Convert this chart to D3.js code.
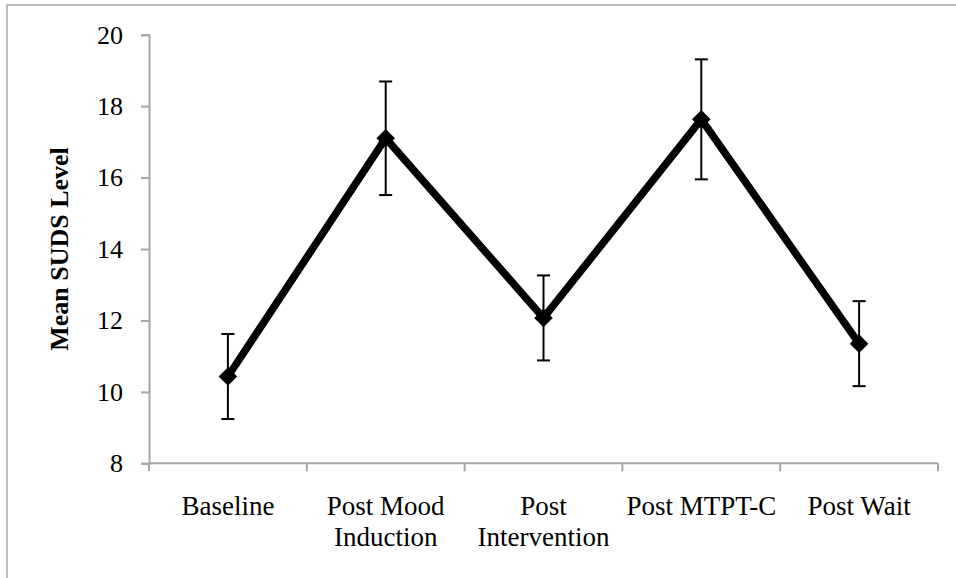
<!DOCTYPE html>
<html>

  <head>
    <meta charset="UTF-8" />
    <script src="https://d3js.org/d3.v7.min.js"></script>
    <title>Mean SUDS Level</title>
    <style>
      body { margin: 0; background: #fff; }
    </style>
  </head>

  <body>
    <div id="chart"></div>

    <script>
      // data
      var categories = ["Baseline", "Post Mood Induction", "Post Intervention", "Post MTPT-C", "Post Wait"];
      var labelLines = [["Baseline"], ["Post Mood", "Induction"], ["Post", "Intervention"], ["Post MTPT-C"], ["Post Wait"]];
      var means = [10.43, 17.1, 12.07, 17.63, 11.35];
      var errors = [1.19, 1.59, 1.19, 1.68, 1.19];
      var yTicks = [8, 10, 12, 14, 16, 18, 20];

      var W = 956, H = 578;
      var margin = { top: 34.7, right: 18, bottom: 114.7, left: 149 },
        width = W - margin.left - margin.right,
        height = H - margin.top - margin.bottom;

      var fontFam = "'Liberation Serif', 'Times New Roman', serif";

      var root = d3.select("#chart")
        .append("svg")
        .attr("width", W)
        .attr("height", H);

      // outer chart border (only top/left fall inside the picture)
      root.append("rect")
        .attr("x", 7)
        .attr("y", 5)
        .attr("width", 960)
        .attr("height", 600)
        .attr("fill", "none")
        .attr("stroke", "#a6a6a6")
        .attr("stroke-width", 1.5);

      var svg = root.append("g")
        .attr("transform", "translate(" + margin.left + "," + margin.top + ")");

      var x = d3.scaleBand()
        .domain(categories)
        .range([0, width]);

      var y = d3.scaleLinear()
        .domain([8, 20])
        .range([height, 0]);

      // y axis
      var yAxis = svg.append("g")
        .call(d3.axisLeft(y).tickValues(yTicks).tickSize(8).tickPadding(18));
      yAxis.select(".domain").attr("stroke", "#a6a6a6").attr("stroke-width", 2);
      yAxis.selectAll(".tick line").attr("stroke", "#a6a6a6").attr("stroke-width", 2);
      yAxis.selectAll("text")
        .style("font-family", fontFam)
        .style("font-size", "26px")
        .attr("fill", "#000");

      // x axis, ticks at the band edges
      var xAxis = svg.append("g")
        .attr("transform", "translate(0," + height + ")");
      xAxis.append("line")
        .attr("x1", 0)
        .attr("x2", width)
        .attr("stroke", "#a6a6a6")
        .attr("stroke-width", 2);
      var edges = categories.map(function(d) { return x(d); }).concat([width]);
      xAxis.selectAll(".xtick")
        .data(edges)
        .enter()
        .append("line")
        .attr("class", "xtick")
        .attr("x1", function(d) { return d; })
        .attr("x2", function(d) { return d; })
        .attr("y1", 0)
        .attr("y2", 8)
        .attr("stroke", "#a6a6a6")
        .attr("stroke-width", 2);

      var labels = xAxis.selectAll(".xlab")
        .data(categories)
        .enter()
        .append("text")
        .attr("class", "xlab")
        .attr("text-anchor", "middle")
        .style("font-family", fontFam)
        .style("font-size", "27px")
        .attr("transform", function(d) {
          return "translate(" + (x(d) + x.bandwidth() / 2) + ",0)";
        });
      labels.selectAll("tspan")
        .data(function(d, i) { return labelLines[i]; })
        .enter()
        .append("tspan")
        .attr("x", 0)
        .attr("y", function(d, i) { return 51.5 + i * 31; })
        .text(function(d) { return d; });

      // y title
      root.append("text")
        .attr("text-anchor", "middle")
        .attr("transform", "translate(68," + (margin.top + height / 2) + ")rotate(-90)")
        .style("font-family", fontFam)
        .style("font-size", "26px")
        .style("font-weight", "bold")
        .text("Mean SUDS Level");

      var cx = function(i) { return x(categories[i]) + x.bandwidth() / 2; };

      // error bars
      var eb = svg.selectAll(".eb")
        .data(means)
        .enter()
        .append("g")
        .attr("class", "eb")
        .attr("stroke", "#000")
        .attr("stroke-width", 2);
      eb.append("line")
        .attr("x1", function(d, i) { return cx(i); })
        .attr("x2", function(d, i) { return cx(i); })
        .attr("y1", function(d, i) { return y(d + errors[i]); })
        .attr("y2", function(d, i) { return y(d - errors[i]); });
      eb.append("line")
        .attr("x1", function(d, i) { return cx(i) - 6.5; })
        .attr("x2", function(d, i) { return cx(i) + 6.5; })
        .attr("y1", function(d, i) { return y(d + errors[i]); })
        .attr("y2", function(d, i) { return y(d + errors[i]); });
      eb.append("line")
        .attr("x1", function(d, i) { return cx(i) - 6.5; })
        .attr("x2", function(d, i) { return cx(i) + 6.5; })
        .attr("y1", function(d, i) { return y(d - errors[i]); })
        .attr("y2", function(d, i) { return y(d - errors[i]); });

      // line
      svg.append("path")
        .datum(means)
        .attr("d", d3.line()
          .x(function(d, i) { return cx(i); })
          .y(function(d) { return y(d); })
        )
        .attr("fill", "none")
        .attr("stroke", "#000")
        .attr("stroke-width", 7.5)
        .attr("stroke-linejoin", "miter");

      // diamond markers
      svg.selectAll(".pt")
        .data(means)
        .enter()
        .append("path")
        .attr("class", "pt")
        .attr("d", d3.symbol().type(d3.symbolDiamond2).size(220))
        .attr("transform", function(d, i) {
          return "translate(" + cx(i) + "," + y(d) + ")";
        })
        .attr("fill", "#000");
    </script>
  </body>

</html>
